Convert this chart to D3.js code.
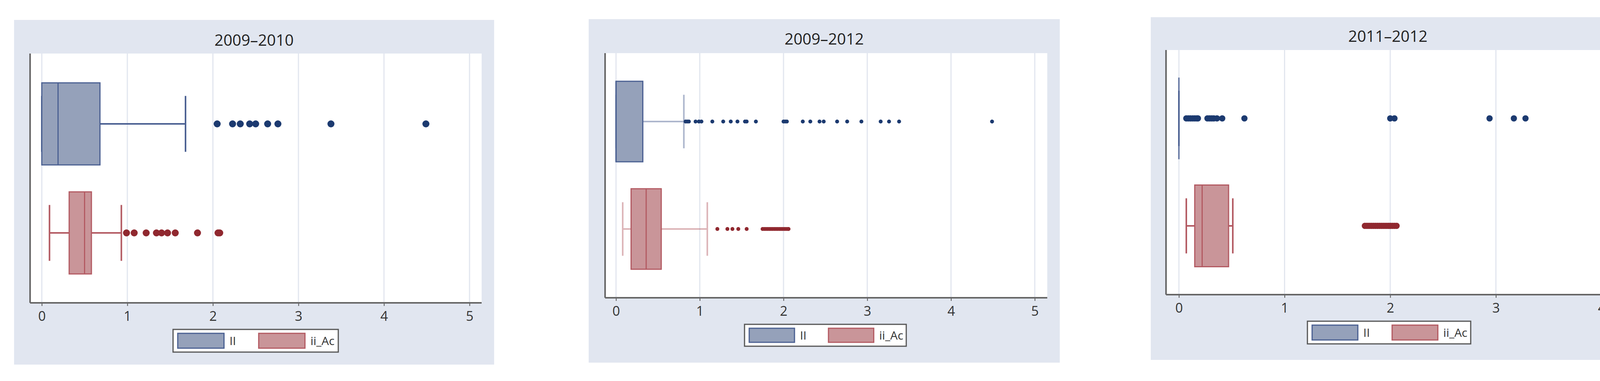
<!DOCTYPE html>
<html><head><meta charset="utf-8">
<script src="https://cdn.jsdelivr.net/npm/d3@7"></script>
<style>body{margin:0;background:#fff}svg{display:block}text{font-family:"Open Sans","DejaVu Sans",sans-serif}</style>
</head><body><svg id="chart" width="4198" height="975"></svg>
<script>
// panel titles and axis ticks
var titles = ["2009\u20132010", "2009\u20132012", "2011\u20132012"];
var tickSets = [[0,1,2,3,4,5],[0,1,2,3,4,5],[0,1,2,3,4]];
var seriesNames = ["II", "ii_Ac"];

// box stats: [whiskerLo, q1, median, q3, whiskerHi]
var statsII = [[0,0,0.19,0.68,1.68],[0,0,0,0.32,0.81],[0,0,0,0,0]];
var statsAc = [[0.09,0.32,0.50,0.58,0.93],[0.08,0.18,0.36,0.54,1.09],[0.07,0.15,0.22,0.47,0.51]];

// outside values
var outII = [
  [2.05,2.23,2.32,2.43,2.50,2.64,2.76,3.38,4.49],
  [0.83,0.85,0.87,0.95,0.99,1.02,1.15,1.28,1.37,1.45,1.54,1.56,1.67,2.00,2.02,2.04,2.23,2.32,2.43,2.48,2.64,2.76,2.93,3.16,3.26,3.38,4.49],
  [0.07,0.09,0.11,0.13,0.15,0.17,0.18,0.27,0.29,0.31,0.33,0.36,0.41,0.62,2.00,2.04,2.94,3.17,3.28]
];
var outAc = [
  [0.99,1.08,1.22,1.34,1.40,1.47,1.56,1.82,2.06,2.08],
  [1.21,1.33,1.39,1.46,1.56,1.75,1.77,1.79,1.81,1.83,1.85,1.87,1.89,1.91,1.93,1.95,1.97,1.99,2.01,2.03,2.05,2.06],
  [1.76,1.78,1.80,1.82,1.84,1.86,1.88,1.90,1.92,1.94,1.96,1.98,2.00,2.02,2.04,2.06]
];

var layout = [
  {bg:[36,51,1265,933], plot:[77,137,1233,775], x0:107, x1:1202, yII:317, yAc:596, boxH:210, capH:143, r:9, wOp:1, leg:[443,843,866,901], title:103},
  {bg:[1507,49,2713,928], plot:[1549,136,2681,762], x0:1577, x1:2649, yII:311, yAc:586, boxH:206, capH:137, r:5, wOp:0.45, leg:[1906,830,2320,886], title:100},
  {bg:[2946,44,4160,921], plot:[2985,128,4130,754], x0:3018, x1:4100, yII:303, yAc:578, boxH:209, capH:141, r:8, wOp:1, leg:[3347,822,3765,880], title:93}
];
var blue = {fill:"#95a1ba", stroke:"#4b6092", dot:"#1c3a70"};
var red  = {fill:"#c99599", stroke:"#b35a62", dot:"#90282f"};

var svg = d3.select("#chart");

function drawBox(g, x, cy, s, outs, L, col) {
  var h = L.boxH, ch = L.capH;
  var w = g.append("g").attr("opacity", L.wOp);
  w.append("line").attr("x1", x(s[0])).attr("x2", x(s[1])).attr("y1", cy).attr("y2", cy).attr("stroke", col.stroke).attr("stroke-width", 4);
  w.append("line").attr("x1", x(s[3])).attr("x2", x(s[4])).attr("y1", cy).attr("y2", cy).attr("stroke", col.stroke).attr("stroke-width", 4);
  [s[0], s[4]].forEach(function (v) {
    w.append("line").attr("x1", x(v)).attr("x2", x(v)).attr("y1", cy - ch/2).attr("y2", cy + ch/2).attr("stroke", col.stroke).attr("stroke-width", 4);
  });
  if (s[3] > s[1]) {
    g.append("rect").attr("x", x(s[1])).attr("y", cy - h/2).attr("width", x(s[3]) - x(s[1])).attr("height", h)
      .attr("fill", col.fill).attr("stroke", col.stroke).attr("stroke-width", 3);
    g.append("line").attr("x1", x(s[2])).attr("x2", x(s[2])).attr("y1", cy - h/2).attr("y2", cy + h/2).attr("stroke", col.stroke).attr("stroke-width", 3);
  } else {
    g.append("line").attr("x1", x(s[1])).attr("x2", x(s[1])).attr("y1", cy - h/2).attr("y2", cy + h/2).attr("stroke", col.stroke).attr("stroke-width", 3);
  }
  g.selectAll(null).data(outs).enter().append("circle")
    .attr("cx", function (d) { return x(d); }).attr("cy", cy).attr("r", L.r).attr("fill", col.dot);
}

layout.forEach(function (L, i) {
  var ticks = tickSets[i];
  var x = d3.scaleLinear().domain([0, ticks[ticks.length - 1]]).range([L.x0, L.x1]);
  var g = svg.append("g");
  g.append("rect").attr("x", L.bg[0]).attr("y", L.bg[1]).attr("width", L.bg[2] - L.bg[0]).attr("height", L.bg[3] - L.bg[1]).attr("fill", "#e1e6f0");
  g.append("rect").attr("x", L.plot[0]).attr("y", L.plot[1]).attr("width", L.plot[2] - L.plot[0]).attr("height", L.plot[3] - L.plot[1]).attr("fill", "#fff");
  g.append("text").attr("x", (L.bg[0] + L.bg[2]) / 2).attr("y", L.title).attr("dy", "0.35em").attr("text-anchor", "middle")
    .attr("font-size", 40).attr("fill", "#222").text(titles[i]);
  // grid
  g.selectAll(null).data(ticks).enter().append("line")
    .attr("x1", function (d) { return x(d); }).attr("x2", function (d) { return x(d); })
    .attr("y1", L.plot[1]).attr("y2", L.plot[3]).attr("stroke", "#e2e6ef").attr("stroke-width", 3);
  // axes
  var ax = g.append("g").attr("transform", "translate(0," + L.plot[3] + ")")
    .call(d3.axisBottom(x).tickValues(ticks).tickFormat(d3.format("d")).tickSize(8).tickPadding(14));
  ax.select(".domain").remove();
  ax.selectAll("line").attr("stroke", "#555").attr("stroke-width", 2);
  ax.selectAll("text").attr("font-size", 34).attr("fill", "#333").style("font-family", "'Open Sans', sans-serif");
  g.append("line").attr("x1", L.plot[0]).attr("x2", L.plot[2]).attr("y1", L.plot[3]).attr("y2", L.plot[3]).attr("stroke", "#666").attr("stroke-width", 4);
  g.append("line").attr("x1", L.plot[0]).attr("x2", L.plot[0]).attr("y1", L.plot[1]).attr("y2", L.plot[3]).attr("stroke", "#666").attr("stroke-width", 4);

  drawBox(g, x, L.yII, statsII[i], outII[i], L, blue);
  drawBox(g, x, L.yAc, statsAc[i], outAc[i], L, red);

  // legend
  var lw = L.leg[2] - L.leg[0], lh = L.leg[3] - L.leg[1];
  g.append("rect").attr("x", L.leg[0]).attr("y", L.leg[1]).attr("width", lw).attr("height", lh)
    .attr("fill", "#fff").attr("stroke", "#555").attr("stroke-width", 3);
  [blue, red].forEach(function (c, k) {
    var sx = L.leg[0] + 12 + k * lw * 0.49, sw = lw * 0.28;
    g.append("rect").attr("x", sx).attr("y", L.leg[1] + 10).attr("width", sw).attr("height", lh - 20)
      .attr("fill", c.fill).attr("stroke", c.stroke).attr("stroke-width", 3);
    g.append("text").attr("x", sx + sw + 14).attr("y", L.leg[1] + lh / 2).attr("dy", "0.35em")
      .attr("font-size", 30).attr("fill", "#333").text(seriesNames[k]);
  });
});
</script></body></html>
